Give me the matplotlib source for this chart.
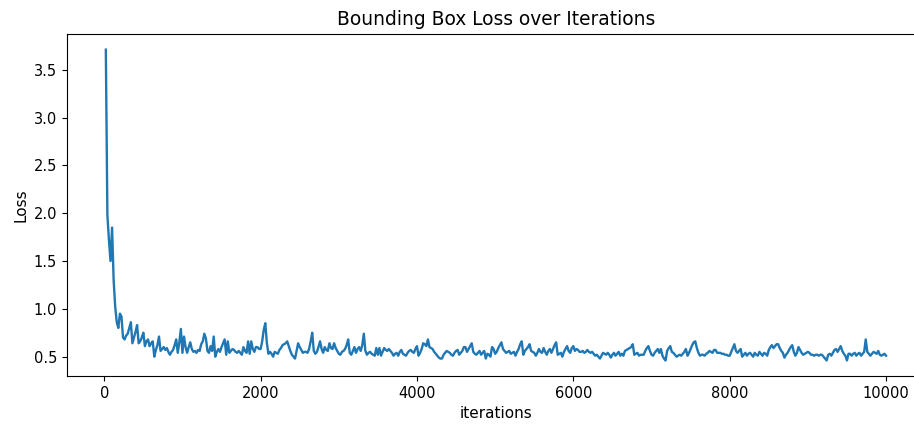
import matplotlib
matplotlib.use('Agg')
import matplotlib.pyplot as plt
import numpy as np

# loss logged every 20 iterations (20 .. 10000)
iterations = np.arange(20, 10001, 20)

bbox_loss = [
    3.71, 1.98, 1.72, 1.50, 1.85, 1.30, 1.02, 0.86, 0.80, 0.95,
    0.92, 0.70, 0.68, 0.72, 0.74, 0.80, 0.86, 0.64, 0.70, 0.76,
    0.83, 0.64, 0.66, 0.70, 0.75, 0.61, 0.66, 0.68, 0.61, 0.64,
    0.66, 0.50, 0.57, 0.62, 0.71, 0.56, 0.58, 0.60, 0.57, 0.59,
    0.55, 0.52, 0.55, 0.57, 0.62, 0.68, 0.54, 0.65, 0.79, 0.54,
    0.71, 0.60, 0.54, 0.60, 0.65, 0.58, 0.55, 0.56, 0.54, 0.57,
    0.56, 0.63, 0.66, 0.74, 0.69, 0.56, 0.54, 0.61, 0.56, 0.71,
    0.50, 0.55, 0.58, 0.55, 0.60, 0.64, 0.68, 0.52, 0.66, 0.54,
    0.56, 0.58, 0.57, 0.55, 0.54, 0.56, 0.54, 0.52, 0.60, 0.56,
    0.54, 0.66, 0.53, 0.66, 0.58, 0.55, 0.60, 0.60, 0.58, 0.58,
    0.66, 0.78, 0.85, 0.64, 0.53, 0.55, 0.53, 0.50, 0.55, 0.54,
    0.53, 0.57, 0.59, 0.62, 0.63, 0.64, 0.66, 0.61, 0.56, 0.52,
    0.50, 0.48, 0.56, 0.64, 0.60, 0.57, 0.54, 0.55, 0.55, 0.54,
    0.58, 0.66, 0.75, 0.56, 0.53, 0.55, 0.60, 0.66, 0.58, 0.54,
    0.60, 0.57, 0.56, 0.64, 0.59, 0.58, 0.64, 0.59, 0.56, 0.53,
    0.52, 0.55, 0.56, 0.58, 0.62, 0.68, 0.54, 0.52, 0.56, 0.60,
    0.54, 0.58, 0.60, 0.56, 0.62, 0.74, 0.56, 0.52, 0.54, 0.55,
    0.53, 0.52, 0.51, 0.59, 0.52, 0.59, 0.51, 0.55, 0.59, 0.57,
    0.56, 0.58, 0.56, 0.54, 0.51, 0.53, 0.54, 0.51, 0.55, 0.57,
    0.53, 0.52, 0.51, 0.54, 0.56, 0.57, 0.55, 0.54, 0.58, 0.61,
    0.51, 0.54, 0.58, 0.64, 0.63, 0.61, 0.68, 0.60, 0.59, 0.58,
    0.55, 0.53, 0.51, 0.49, 0.48, 0.48, 0.52, 0.54, 0.56, 0.55,
    0.54, 0.52, 0.51, 0.54, 0.56, 0.57, 0.52, 0.54, 0.56, 0.60,
    0.60, 0.55, 0.58, 0.61, 0.64, 0.55, 0.53, 0.52, 0.54, 0.56,
    0.52, 0.54, 0.56, 0.48, 0.53, 0.52, 0.50, 0.60, 0.58, 0.53,
    0.55, 0.59, 0.62, 0.65, 0.58, 0.56, 0.54, 0.55, 0.56, 0.53,
    0.54, 0.55, 0.51, 0.55, 0.58, 0.63, 0.66, 0.52, 0.56, 0.58,
    0.60, 0.63, 0.56, 0.55, 0.54, 0.51, 0.54, 0.58, 0.55, 0.54,
    0.59, 0.55, 0.52, 0.56, 0.58, 0.54, 0.58, 0.62, 0.65, 0.52,
    0.53, 0.54, 0.50, 0.55, 0.58, 0.61, 0.56, 0.54, 0.59, 0.61,
    0.56, 0.58, 0.57, 0.55, 0.55, 0.56, 0.54, 0.55, 0.57, 0.55,
    0.54, 0.55, 0.53, 0.51, 0.52, 0.50, 0.48, 0.51, 0.54, 0.53,
    0.52, 0.54, 0.52, 0.49, 0.52, 0.54, 0.51, 0.53, 0.55, 0.51,
    0.53, 0.51, 0.56, 0.57, 0.58, 0.59, 0.60, 0.63, 0.52, 0.53,
    0.54, 0.51, 0.52, 0.52, 0.52, 0.56, 0.59, 0.61, 0.56, 0.52,
    0.51, 0.54, 0.56, 0.58, 0.54, 0.58, 0.51, 0.48, 0.46, 0.56,
    0.59, 0.61, 0.55, 0.54, 0.52, 0.50, 0.51, 0.52, 0.51, 0.53,
    0.55, 0.58, 0.51, 0.54, 0.58, 0.62, 0.65, 0.66, 0.59, 0.54,
    0.51, 0.52, 0.52, 0.51, 0.53, 0.54, 0.56, 0.55, 0.54, 0.57,
    0.57, 0.54, 0.54, 0.54, 0.53, 0.53, 0.52, 0.52, 0.51, 0.51,
    0.55, 0.59, 0.63, 0.56, 0.54, 0.56, 0.58, 0.50, 0.52, 0.54,
    0.51, 0.53, 0.54, 0.52, 0.50, 0.54, 0.52, 0.51, 0.55, 0.53,
    0.51, 0.54, 0.53, 0.51, 0.57, 0.60, 0.62, 0.59, 0.61, 0.63,
    0.63, 0.59, 0.56, 0.54, 0.49, 0.52, 0.54, 0.57, 0.60, 0.62,
    0.55, 0.51, 0.54, 0.60, 0.57, 0.54, 0.52, 0.53, 0.54, 0.55,
    0.54, 0.52, 0.52, 0.51, 0.52, 0.52, 0.51, 0.52, 0.52, 0.50,
    0.48, 0.46, 0.52, 0.53, 0.51, 0.54, 0.57, 0.58, 0.55, 0.58,
    0.61, 0.56, 0.53, 0.51, 0.46, 0.53, 0.53, 0.51, 0.53, 0.54,
    0.51, 0.53, 0.54, 0.51, 0.53, 0.55, 0.68, 0.55, 0.53, 0.51,
    0.53, 0.55, 0.54, 0.53, 0.56, 0.52, 0.51, 0.52, 0.53, 0.51,
]

fig = plt.figure(figsize=(9.14, 4.29), dpi=100)
# axes runs a little past the right edge, like the reference crop
ax = fig.add_axes([0.0731, 0.1235, 0.939, 0.797])
ax.plot(iterations, bbox_loss, color='#1f77b4', linewidth=1.7)

ax.set_title('Bounding Box Loss over Iterations', fontsize=13.4, pad=6.5)
ax.set_xlabel('iterations', fontsize=11)
ax.set_ylabel('Loss', fontsize=11)
ax.set_xticks([0, 2000, 4000, 6000, 8000, 10000])
ax.set_yticks([0.5, 1.0, 1.5, 2.0, 2.5, 3.0, 3.5])
ax.tick_params(labelsize=10.5)

fig.savefig('out.png', dpi=100)
